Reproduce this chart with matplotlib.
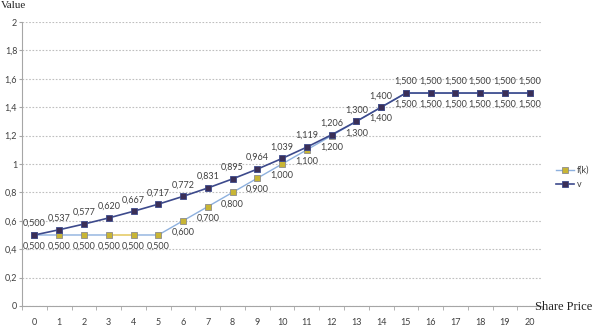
import matplotlib.pyplot as plt
import matplotlib.ticker as mticker
import numpy as np

# data
share_price = list(range(21))
fk = [0.5, 0.5, 0.5, 0.5, 0.5, 0.5, 0.6, 0.7, 0.8, 0.9, 1.0, 1.1, 1.2, 1.3, 1.4,
      1.5, 1.5, 1.5, 1.5, 1.5, 1.5]
v = [0.500, 0.537, 0.577, 0.620, 0.667, 0.717, 0.772, 0.831, 0.895, 0.964, 1.039,
     1.119, 1.206, 1.300, 1.400, 1.500, 1.500, 1.500, 1.500, 1.500, 1.500]
series_names = ['f(k)', 'v']


def comma(x):
    return '{:.3f}'.format(x).replace('.', ',')


fig = plt.figure(figsize=(5.97, 3.29), dpi=100)
ax = fig.add_axes([0.037, 0.070, 0.871, 0.863])

lbl_font = 'Lato'
lbl_color = '#404040'

# f(k): light blue line with one yellow segment, yellow markers
ax.plot(share_price, fk, color='#8DB0DE', lw=1.0, zorder=2)
ax.plot(share_price[3:5], fk[3:5], color='#F5D76E', lw=1.2, zorder=2)
ax.plot(share_price, fk, ls='none', marker='s', ms=4.2, mfc='#C8B535',
        mec='#8C8C8C', mew=0.6, zorder=3)
# v: navy line, dark markers
ax.plot(share_price, v, color='#3D4A8C', lw=1.2, zorder=4)
ax.plot(share_price, v, ls='none', marker='s', ms=4.2, mfc='#3B2F57',
        mec='#3D4A8C', mew=0.6, zorder=5)

# legend handles
h1, = ax.plot([], [], color='#8DB0DE', lw=1.0, marker='s', ms=4.2,
              mfc='#C8B535', mec='#8C8C8C', mew=0.6)
h2, = ax.plot([], [], color='#3D4A8C', lw=1.2, marker='s', ms=4.2,
              mfc='#3B2F57', mec='#3D4A8C', mew=0.6)
leg = fig.legend([h1, h2], series_names, loc='upper left',
                 bbox_to_anchor=(0.918, 0.52), frameon=False,
                 prop={'family': lbl_font, 'size': 6.5}, handlelength=2.0,
                 labelspacing=0.6, handletextpad=0.3)
for t in leg.get_texts():
    t.set_color(lbl_color)

# data labels
for x, a, b in zip(share_price, fk, v):
    ax.annotate(comma(b), (x, b), xytext=(0, 5), textcoords='offset points',
                ha='center', va='bottom', fontsize=6.5, family=lbl_font,
                color=lbl_color)
    ax.annotate(comma(a), (x, a), xytext=(0, -5), textcoords='offset points',
                ha='center', va='top', fontsize=6.5, family=lbl_font,
                color=lbl_color)

ax.set_xlim(-0.5, 20.5)
ax.set_ylim(0, 2)
ax.set_xticks(share_price)
ax.set_xticks(np.arange(-0.5, 21, 1), minor=True)
ax.tick_params(axis='x', which='major', length=0, pad=9, labelsize=6.5,
               labelcolor=lbl_color)
ax.tick_params(axis='x', which='minor', length=3, color='#A6A6A6',
               direction='out')
ax.set_yticks(np.arange(0, 2.01, 0.2))
ax.yaxis.set_major_formatter(mticker.FuncFormatter(
    lambda y, p: '{:g}'.format(round(y, 1)).replace('.', ',')))
ax.tick_params(axis='y', length=2, color='#A6A6A6', labelsize=6.5,
               labelcolor=lbl_color, pad=1.5)
for lab in ax.get_xticklabels() + ax.get_yticklabels():
    lab.set_family(lbl_font)

ax.grid(axis='y', color='#BFBFBF', ls=(0, (1.5, 1.5)), lw=0.8)
ax.set_axisbelow(True)
for s in ['top', 'right']:
    ax.spines[s].set_visible(False)
for s in ['left', 'bottom']:
    ax.spines[s].set_color('#A6A6A6')
    ax.spines[s].set_linewidth(0.8)

fig.text(0.896, 0.066, 'Share Price', family='Liberation Serif', fontsize=9,
         color='#222222', ha='left', va='center')
fig.text(0.002, 0.998, 'Value', family='Liberation Serif', fontsize=8,
         color='#222222', ha='left', va='top')

fig.savefig('out.png', dpi=100)
